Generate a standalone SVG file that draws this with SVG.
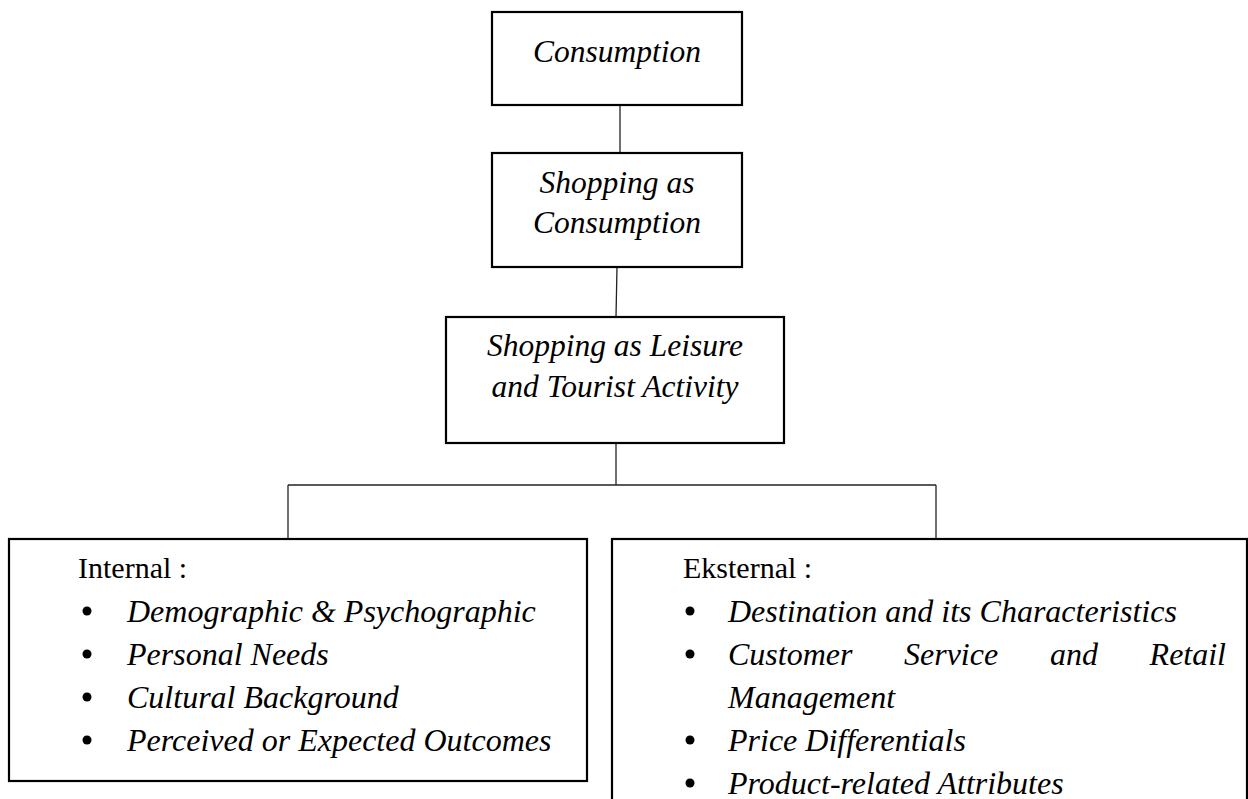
<svg xmlns="http://www.w3.org/2000/svg" width="1248" height="799" viewBox="0 0 1248 799">
<style>
.box{fill:#fff;stroke:#000;stroke-width:2.2}
.conn{fill:none;stroke:#222;stroke-width:1.3}
.dot{fill:#000}
text{font-family:"Liberation Serif","Times New Roman",serif;font-size:30px;fill:#000}
.it{font-style:italic;font-size:32px}
.top{font-size:31.5px}
.c{text-anchor:middle}
.e{text-anchor:end}
</style>
<rect width="1248" height="799" fill="#fff"/>
<g id="connectors">
<line class="conn" x1="620" y1="105" x2="620" y2="153"/>
<line class="conn" x1="617" y1="267" x2="616" y2="317"/>
<line class="conn" x1="616" y1="443" x2="616" y2="485"/>
<line class="conn" x1="288" y1="485" x2="936" y2="485"/>
<line class="conn" x1="288" y1="485" x2="288" y2="539"/>
<line class="conn" x1="936" y1="485" x2="936" y2="539"/>
</g>
<g id="consumption">
<rect class="box" x="492" y="12" width="250" height="93"/>
<text class="it top c" x="617" y="62">Consumption</text>
</g>
<g id="shopping-consumption">
<rect class="box" x="492" y="153" width="250" height="114"/>
<text class="it top c" x="617" y="193">Shopping as</text>
<text class="it top c" x="617" y="233">Consumption</text>
</g>
<g id="shopping-leisure">
<rect class="box" x="446" y="317" width="338" height="126"/>
<text class="it top c" x="615" y="356">Shopping as Leisure</text>
<text class="it top c" x="615" y="397">and Tourist Activity</text>
</g>
<g id="internal">
<rect class="box" x="9" y="539" width="578" height="242"/>
<text x="78" y="578">Internal :</text>
<circle class="dot" cx="87" cy="611" r="4.5"/>
<text class="it" x="127" y="622">Demographic &amp; Psychographic</text>
<circle class="dot" cx="87" cy="654" r="4.5"/>
<text class="it" x="127" y="665">Personal Needs</text>
<circle class="dot" cx="87" cy="697" r="4.5"/>
<text class="it" x="127" y="708">Cultural Background</text>
<circle class="dot" cx="87" cy="740" r="4.5"/>
<text class="it" x="127" y="751">Perceived or Expected Outcomes</text>
</g>
<g id="eksternal">
<rect class="box" x="612" y="539" width="635" height="280"/>
<text x="683" y="578">Eksternal :</text>
<circle class="dot" cx="690" cy="611" r="4.5"/>
<text class="it" x="728" y="622">Destination and its Characteristics</text>
<circle class="dot" cx="690" cy="654" r="4.5"/>
<text class="it" x="728" y="665">Customer</text>
<text class="it" x="904" y="665">Service</text>
<text class="it" x="1050" y="665">and</text>
<text class="it e" x="1226" y="665">Retail</text>
<text class="it" x="728" y="708">Management</text>
<circle class="dot" cx="690" cy="740" r="4.5"/>
<text class="it" x="728" y="751">Price Differentials</text>
<circle class="dot" cx="690" cy="783" r="4.5"/>
<text class="it" x="728" y="794">Product-related Attributes</text>
</g>
</svg>
